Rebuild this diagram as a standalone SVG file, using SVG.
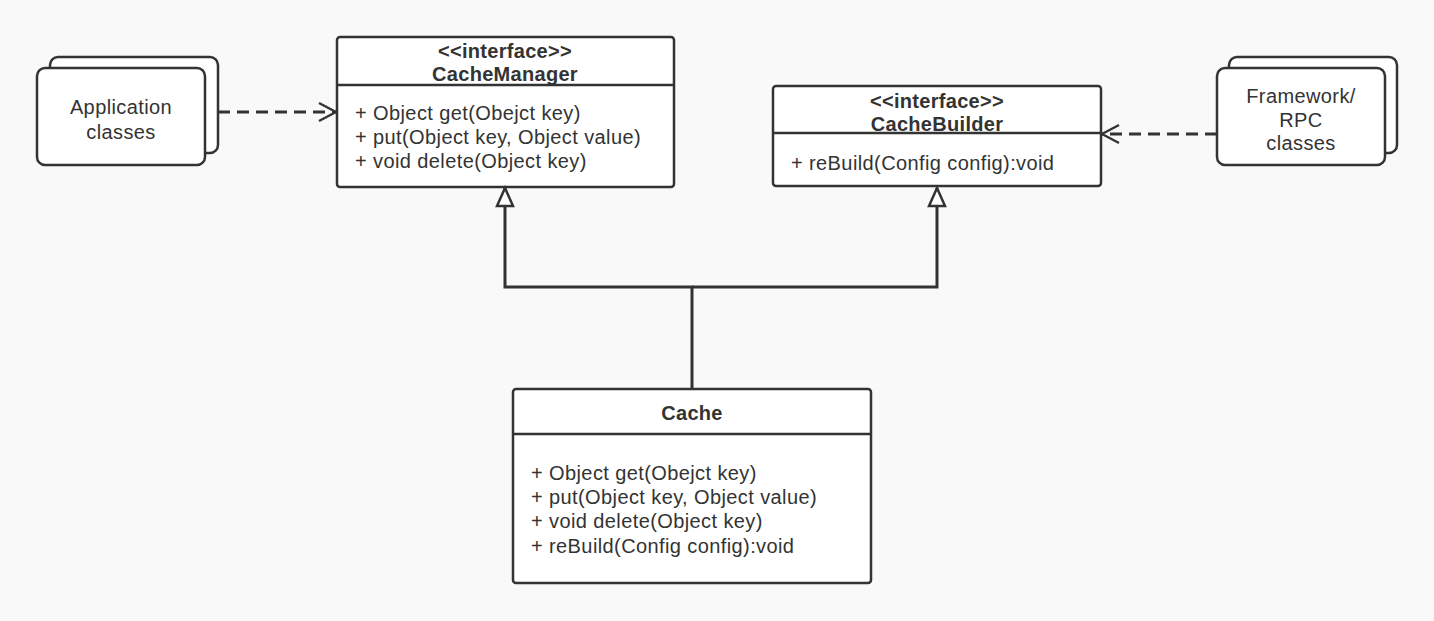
<svg xmlns="http://www.w3.org/2000/svg" width="1434" height="621" viewBox="0 0 1434 621">
<style>
.box{fill:#ffffff;stroke:#333333;stroke-width:2.5}
.ln{fill:none;stroke:#333333;stroke-width:3}
.dash{fill:none;stroke:#333333;stroke-width:3;stroke-dasharray:12 7}
text{font-family:"Liberation Sans",Arial,sans-serif;font-size:20px;fill:#333333;letter-spacing:0.4px}
.b{font-weight:bold;letter-spacing:0.3px}
.c{text-anchor:middle}
</style>
<defs>
<marker id="open" viewBox="0 0 22 22" refX="20" refY="11" markerWidth="22" markerHeight="22" markerUnits="userSpaceOnUse" orient="auto">
<path d="M3,2 L20,11 L3,20" fill="none" stroke="#333333" stroke-width="2.5"/>
</marker>
<marker id="tri" viewBox="0 0 24 20" refX="21" refY="10" markerWidth="24" markerHeight="20" markerUnits="userSpaceOnUse" orient="auto">
<path d="M3,2 L21,10 L3,18 Z" fill="#ffffff" stroke="#333333" stroke-width="2.5"/>
</marker>
</defs>
<rect width="1434" height="621" fill="#f9f9f9"/>
<g id="app">
<rect class="box" x="50" y="57" width="168" height="96" rx="8"/>
<rect class="box" x="37" y="68" width="168" height="97" rx="8"/>
<text class="c" x="121" y="114">Application</text>
<text class="c" x="121" y="139">classes</text>
</g>
<g id="cachemanager">
<rect class="box" x="337" y="37" width="337" height="150" rx="3"/>
<line class="box" x1="337" y1="85" x2="674" y2="85"/>
<text class="c b" x="505" y="58">&lt;&lt;interface&gt;&gt;</text>
<text class="c b" x="505" y="81">CacheManager</text>
<text x="355" y="120">+ Object get(Obejct key)</text>
<text x="355" y="144">+ put(Object key, Object value)</text>
<text x="355" y="168">+ void delete(Object key)</text>
</g>
<g id="cachebuilder">
<rect class="box" x="773" y="86" width="328" height="100" rx="3"/>
<line class="box" x1="773" y1="133" x2="1101" y2="133"/>
<text class="c b" x="937" y="108">&lt;&lt;interface&gt;&gt;</text>
<text class="c b" x="937" y="131">CacheBuilder</text>
<text x="791" y="170">+ reBuild(Config config):void</text>
</g>
<g id="framework">
<rect class="box" x="1229" y="57" width="168" height="96" rx="8"/>
<rect class="box" x="1217" y="68" width="168" height="97" rx="8"/>
<text class="c" x="1301" y="103">Framework/</text>
<text class="c" x="1301" y="127">RPC</text>
<text class="c" x="1301" y="150">classes</text>
</g>
<g id="cache">
<rect class="box" x="513" y="389" width="358" height="194" rx="3"/>
<line class="box" x1="513" y1="434" x2="871" y2="434"/>
<text class="c b" x="692" y="420">Cache</text>
<text x="531" y="480">+ Object get(Obejct key)</text>
<text x="531" y="504">+ put(Object key, Object value)</text>
<text x="531" y="528">+ void delete(Object key)</text>
<text x="531" y="553">+ reBuild(Config config):void</text>
</g>
<g id="connectors">
<line class="dash" x1="218" y1="112" x2="336" y2="112" marker-end="url(#open)"/>
<line class="dash" x1="1217" y1="134" x2="1102" y2="134" marker-end="url(#open)"/>
<polyline class="ln" points="692,389 692,287 505,287 505,188" marker-end="url(#tri)"/>
<polyline class="ln" points="692,287 937,287 937,188" marker-end="url(#tri)"/>
</g>
</svg>
